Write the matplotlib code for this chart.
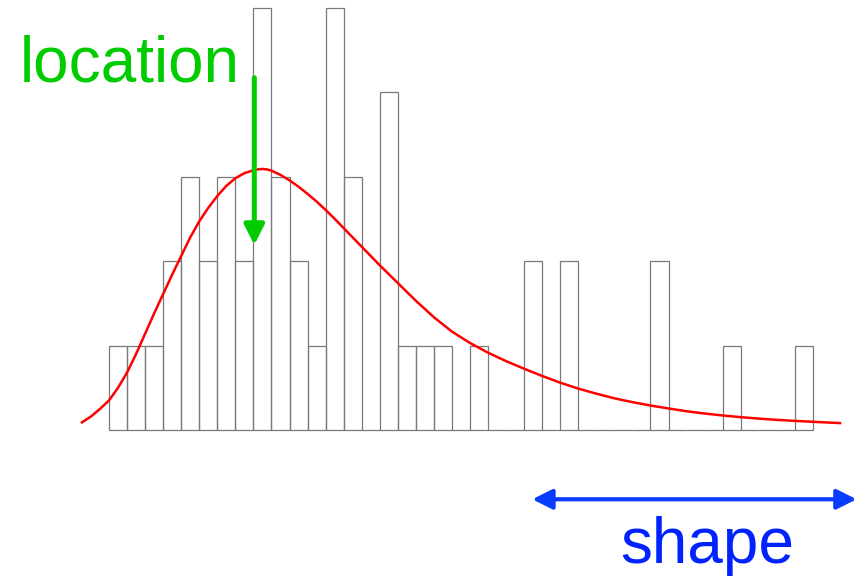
import matplotlib.pyplot as plt

# histogram counts per bin (bin width = 1)
counts = [1, 1, 1, 2, 3, 2, 3, 2, 5, 3, 2, 1, 5, 3, 0, 4, 1, 1, 1, 0,
          1, 0, 0, 2, 0, 2, 0, 0, 0, 0, 2, 0, 0, 0, 1, 0, 0, 0, 1]
bin_left = list(range(len(counts)))

# fitted density curve (x in bin units, y in counts)
curve_x = [-1.5, -1, -0.5, 0, 0.5, 1, 1.5, 2, 2.5, 3, 3.5, 4, 4.5, 5, 5.5,
           6, 6.5, 7, 7.5, 8, 8.25, 8.5, 8.75, 9, 9.5, 10, 10.5, 11, 11.5,
           12, 12.5, 13, 13.5, 14, 14.5, 15, 16, 17, 18, 19, 20, 21, 22, 23,
           24, 25, 26, 27, 28, 29, 30, 31, 32, 33, 34, 35, 36, 37, 38, 39,
           40.5]
curve_y = [0.09, 0.16, 0.25, 0.35, 0.5, 0.68, 0.9, 1.14, 1.38, 1.61, 1.84,
           2.06, 2.28, 2.47, 2.63, 2.77, 2.89, 2.98, 3.04, 3.075, 3.085,
           3.09, 3.085, 3.07, 3.02, 2.955, 2.88, 2.795, 2.705, 2.605, 2.5,
           2.39, 2.28, 2.17, 2.06, 1.95, 1.74, 1.53, 1.335, 1.165, 1.03, 0.915,
           0.815, 0.725, 0.64, 0.56, 0.49, 0.43, 0.375, 0.33, 0.29, 0.255,
           0.222, 0.195, 0.172, 0.152, 0.135, 0.12, 0.108, 0.097, 0.082]

fig = plt.figure(figsize=(8.64, 5.77), dpi=100)
ax = fig.add_axes([0, 0, 1, 1])
ax.set_xlim(-6.04, 41.83)
ax.set_ylim(-1.74, 5.09)
ax.axis('off')

ax.bar(bin_left, counts, width=1, align='edge', fill=False,
       edgecolor='#7a7a7a', linewidth=0.9)
ax.plot(curve_x, curve_y, color='#ff0000', linewidth=1.8,
        solid_joinstyle='round')

# location arrow
ax.annotate('', xy=(8.05, 2.19), xytext=(8.05, 4.17),
            arrowprops=dict(arrowstyle='-|>,head_length=0.6,head_width=0.3',
                            mutation_scale=20, color='#00cc00', lw=3.6,
                            shrinkA=0, shrinkB=0))
ax.text(-4.95, 4.13, 'location', color='#00cc00', fontsize=46,
        family='Liberation Sans', va='baseline', ha='left')

# shape arrow
ax.annotate('', xy=(41.42, -0.82), xytext=(23.45, -0.82),
            arrowprops=dict(arrowstyle='<|-|>,head_length=0.6,head_width=0.3',
                            mutation_scale=20, color='#0a3cff', lw=3.0,
                            shrinkA=0, shrinkB=0))
ax.text(28.33, -1.578, 'shape', color='#0022ff', fontsize=46,
        family='Liberation Sans', va='baseline', ha='left')

plt.savefig('out.png', dpi=100)
